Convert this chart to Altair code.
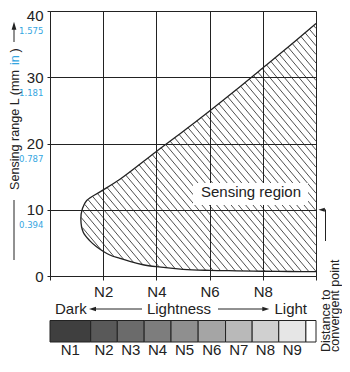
import altair as alt
import pandas as pd

# ---------------- data ----------------
# sensing-region outline (x in lightness N units, y in mm)
upper_x = [1.16, 1.22, 1.38, 1.88, 2.63, 4, 5, 6, 7, 8, 9, 10]
upper_y = [8.6, 10.2, 11.4, 12.7, 14.6, 18.8, 21.8, 24.9, 28.1, 31.4, 34.7, 38.1]
lower_x = [1.16, 1.25, 1.5, 1.75, 2.25, 2.63, 3, 3.5, 4, 5, 6, 7, 8, 9, 10]
lower_y = [8.6, 6.6, 5.3, 4.42, 3.17, 2.67, 2.2, 1.7, 1.4, 1.0, 0.85, 0.78, 0.72, 0.68, 0.65]

y_ticks = [0, 10, 20, 30, 40]
x_ticks = [0, 2, 4, 6, 8, 10]
inch_ticks = [10, 20, 30, 40]
inch_labels = ["0.394", "0.787", "1.181", "1.575"]

shade_names = ["N1", "N2", "N3", "N4", "N5", "N6", "N7", "N8", "N9", ""]
shade_edges = [0, 1.53, 2.53, 3.54, 4.55, 5.57, 6.6, 7.6, 8.6, 9.62, 10]
shade_colors = ["#3f3f3f", "#595959", "#6b6b6b", "#7d7d7d", "#8f8f8f",
                "#a5a5a5", "#b9b9b9", "#d0d0d0", "#e6e6e6", "#ffffff"]

# ---------------- derived tables ----------------
W, H = 266, 265
FONT = "Liberation Sans, Arial, Helvetica, sans-serif"
NARROW = "Liberation Sans Narrow, Arial Narrow, DejaVu Sans Condensed, sans-serif"
INK = "#222222"
BLUE = "#35a6df"

ox = list(reversed(upper_x)) + lower_x[1:]
oy = list(reversed(upper_y)) + lower_y[1:]
outline = pd.DataFrame({"x": ox, "y": oy, "o": list(range(len(ox)))})


def hatch_segments(px, py, slope, step):
    n = len(px)
    cs = [py[i] + slope * px[i] for i in range(n)]
    cmin, cmax = min(cs), max(cs)
    segs = []
    c = cmin + step * 0.5
    while c < cmax:
        xs = []
        for i in range(n):
            x1, y1 = px[i], py[i]
            x2, y2 = px[(i + 1) % n], py[(i + 1) % n]
            f1 = y1 + slope * x1 - c
            f2 = y2 + slope * x2 - c
            if (f1 > 0) != (f2 > 0):
                t = f1 / (f1 - f2)
                xs.append(x1 + t * (x2 - x1))
        xs.sort()
        for j in range(0, len(xs) - 1, 2):
            segs.append({"hx1": xs[j], "hy1": c - slope * xs[j],
                         "hx2": xs[j + 1], "hy2": c - slope * xs[j + 1]})
        c += step
    return pd.DataFrame(segs)


hatch = hatch_segments(ox, oy, 4.78, 1.31)

shades = pd.DataFrame({
    "name": shade_names,
    "a": shade_edges[:-1],
    "b": shade_edges[1:],
    "col": shade_colors,
})
shades["mid"] = (shades["a"] + shades["b"]) / 2

inch = pd.DataFrame({"v": inch_ticks, "t": inch_labels})
one = pd.DataFrame({"k": [0]})

# ---------------- scales / axes ----------------
xs = alt.Scale(domain=[0, 10], nice=False, zero=False)
ys = alt.Scale(domain=[0, 40], nice=False, zero=False)
xaxis = alt.Axis(values=x_ticks, grid=True, gridColor=INK, gridOpacity=1, gridWidth=1,
                 domainColor=INK, tickColor=INK, tickSize=4, labelPadding=4,
                 labelFont=FONT, labelFontSize=15, labelColor=INK, labelFlush=False,
                 labelExpr="datum.value > 0 && datum.value < 10 ? 'N' + datum.value : ''",
                 title=None)
yaxis = alt.Axis(values=y_ticks, grid=True, gridColor=INK, gridOpacity=1, gridWidth=1,
                 domainColor=INK, tickColor=INK, tickSize=3, labelPadding=4,
                 labelFont=FONT, labelFontSize=15, labelColor=INK, labelFlush=False,
                 labelOffset={"condition": {"test": "datum.value == 40", "value": 4}, "value": 0},
                 title=None)


def X(f):
    return alt.X(f, type="quantitative", scale=xs, axis=xaxis, title=None)


def Y(f):
    return alt.Y(f, type="quantitative", scale=ys, axis=yaxis, title=None)


# ---------------- layers ----------------
hatch_layer = alt.Chart(hatch).mark_rule(color=INK, strokeWidth=0.8).encode(
    x=X("hx1"), x2="hx2", y=Y("hy1"), y2="hy2")

region_line = alt.Chart(outline).mark_line(
    color=INK, strokeWidth=1.3, interpolate="catmull-rom").encode(
    x=X("x"), y=Y("y"), order="o:Q")

label_box = alt.Chart(one).mark_rect(color="white").encode(
    x=alt.value(143), x2=alt.value(258), y=alt.value(172), y2=alt.value(194))

label_text = alt.Chart(one).mark_text(
    text="Sensing region", font=FONT, fontSize=15, color=INK,
    align="center", baseline="alphabetic").encode(
    x=alt.value(201), y=alt.value(185.7))

inch_low = alt.Chart(inch).transform_filter("datum.v < 40").mark_text(
    font=NARROW, fontSize=9.5, color=BLUE, align="right", baseline="middle", dy=15.5).encode(
    x=alt.value(-6.5), y=Y("v"), text="t:N")
inch_top = alt.Chart(inch).transform_filter("datum.v >= 40").mark_text(
    font=NARROW, fontSize=9.5, color=BLUE, align="right", baseline="middle", dy=19.5).encode(
    x=alt.value(-6.5), y=Y("v"), text="t:N")

TX = -35.5  # x of the rotated y-title column


def vtext(txt, y, color=INK):
    return alt.Chart(one).mark_text(
        text=txt, font=FONT, fontSize=12.6, color=color, angle=270,
        align="left", baseline="middle").encode(x=alt.value(TX), y=alt.value(y))


title_a = vtext("Sensing range L (mm", 179)
title_b = vtext("in", 54, BLUE)
title_c = vtext(")", 41.5)
title_line_low = alt.Chart(one).mark_rule(color=INK, strokeWidth=1).encode(
    x=alt.value(TX - 0.5), y=alt.value(189), y2=alt.value(249))
title_line_up = alt.Chart(one).mark_rule(color=INK, strokeWidth=1).encode(
    x=alt.value(TX - 0.5), y=alt.value(31), y2=alt.value(16))
UP = "M 0 -1 L -0.6 1 L 0.6 1 Z"
LEFT = "M -1 0 L 1 -0.62 L 1 0.62 Z"
RIGHT = "M 1 0 L -1 -0.62 L -1 0.62 Z"
title_head = alt.Chart(one).mark_point(shape=UP, filled=True, color=INK, opacity=1, size=64).encode(
    x=alt.value(TX - 0.5), y=alt.value(14.7))

# right: distance to convergent point
CX = 275.5
conv_v = alt.Chart(one).mark_rule(color=INK, strokeWidth=1).encode(
    x=alt.value(CX), y=alt.value(198.75), y2=alt.value(230))
conv_h = alt.Chart(one).mark_rule(color=INK, strokeWidth=1).encode(
    x=alt.value(CX), x2=alt.value(272), y=alt.datum(10, scale=ys, axis=yaxis))
conv_head = alt.Chart(one).mark_point(shape=LEFT, filled=True, color=INK, opacity=1, size=42).encode(
    x=alt.value(271.6), y=alt.datum(10, scale=ys, axis=yaxis))
conv_t1 = alt.Chart(one).mark_text(
    text="Distance to", font=FONT, fontSize=12.5, color=INK, angle=270,
    align="left", baseline="alphabetic").encode(x=alt.value(279.8), y=alt.value(341))
conv_t2 = alt.Chart(one).mark_text(
    text="convergent point", font=FONT, fontSize=12.5, color=INK, angle=270,
    align="left", baseline="alphabetic").encode(x=alt.value(289.2), y=alt.value(341))


def htext(txt, x, align):
    return alt.Chart(one).mark_text(
        text=txt, font=FONT, fontSize=15, color=INK, align=align,
        baseline="alphabetic").encode(x=alt.value(x), y=alt.value(302.5))


dark_t = htext("Dark", 5, "left")
light_t = htext("Lightness", 129, "center")
lt_t = htext("Light", 257, "right")
ARY = 298
arr_l = alt.Chart(one).mark_rule(color=INK, strokeWidth=1).encode(
    x=alt.value(44), x2=alt.value(92), y=alt.value(ARY))
arr_r = alt.Chart(one).mark_rule(color=INK, strokeWidth=1).encode(
    x=alt.value(168), x2=alt.value(214), y=alt.value(ARY))
head_l = alt.Chart(one).mark_point(shape=LEFT, filled=True, color=INK, opacity=1, size=49).encode(
    x=alt.value(42.5), y=alt.value(ARY))
head_r = alt.Chart(one).mark_point(shape=RIGHT, filled=True, color=INK, opacity=1, size=49).encode(
    x=alt.value(215.8), y=alt.value(ARY))

# grey scale bar
shade_rects = alt.Chart(shades).mark_rect(stroke=INK, strokeWidth=1).encode(
    x=X("a"), x2="b", y=alt.value(309.5), y2=alt.value(331),
    fill=alt.Fill("col:N", scale=None))
shade_text = alt.Chart(shades).mark_text(
    font=FONT, fontSize=15, color=INK, align="center", baseline="alphabetic").encode(
    x=X("mid"), y=alt.value(344), text="name:N")

chart = alt.layer(
    hatch_layer, label_box, label_text, region_line, inch_low, inch_top,
    title_a, title_b, title_c, title_line_low, title_line_up, title_head,
    conv_v, conv_h, conv_head, conv_t1, conv_t2,
    dark_t, light_t, lt_t, arr_l, arr_r, head_l, head_r,
    shade_rects, shade_text,
).properties(
    width=W, height=H,
    autosize=alt.AutoSizeParams(type="none"),
    padding={"left": 42, "top": 3, "right": 26, "bottom": 81},
).configure_view(strokeWidth=0)

chart.save("out.html", embed_options={"renderer": "svg", "actions": False})
